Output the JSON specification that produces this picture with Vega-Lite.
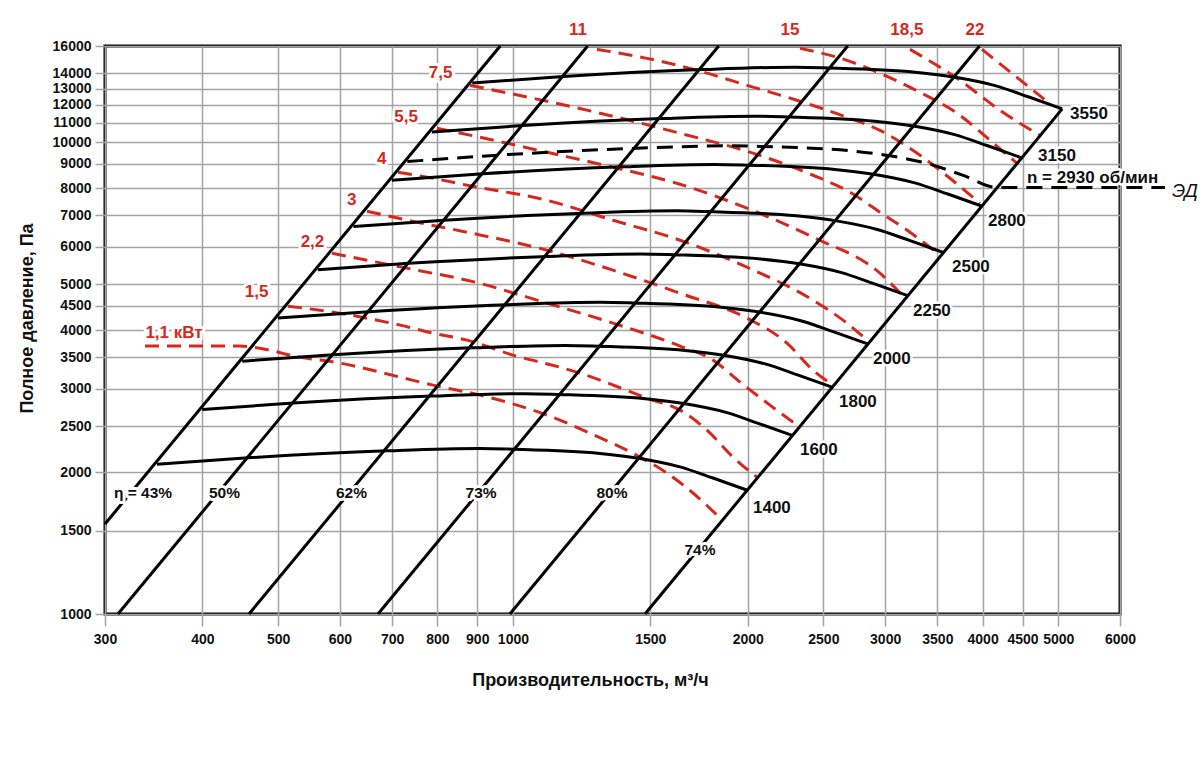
{
  "$schema": "https://vega.github.io/schema/vega-lite/v6.json",
  "width": 1015,
  "height": 568,
  "autosize": {"type": "none"},
  "padding": {"left": 105, "top": 46, "right": 80, "bottom": 149},
  "background": "white",
  "config": {
    "view": {"stroke": "#000", "strokeWidth": 3},
    "font": "Liberation Sans",
    "axis": {
      "domain": false, "grid": true, "gridColor": "#a3a3a3", "gridWidth": 1.5,
      "tickColor": "#a3a3a3", "tickWidth": 1.5,
      "labelFont": "Liberation Sans", "labelFontWeight": "bold", "labelFontSize": 14, "labelColor": "#111",
      "titleFont": "Liberation Sans", "titleFontWeight": "bold", "titleFontSize": 18, "titleColor": "#111",
      "labelOverlap": false, "labelFlush": false
    }
  },
  "datasets": {
    "speeds": [
      {"n":1400,"Q":349.8,"P":2078},{"n":1400,"Q":457.6,"P":2144},{"n":1400,"Q":689.5,"P":2218},{"n":1400,"Q":907.5,"P":2244},{"n":1400,"Q":1000.1,"P":2236},{"n":1400,"Q":1293,"P":2190},{"n":1400,"Q":1455,"P":2137},{"n":1400,"Q":1637,"P":2051},{"n":1400,"Q":1805,"P":1942},{"n":1400,"Q":1995,"P":1831},
      {"n":1600,"Q":399.8,"P":2714},{"n":1600,"Q":523,"P":2800},{"n":1600,"Q":788,"P":2897},{"n":1600,"Q":1037.1,"P":2931},{"n":1600,"Q":1143,"P":2920},{"n":1600,"Q":1477.7,"P":2860},{"n":1600,"Q":1662.9,"P":2791},{"n":1600,"Q":1870.9,"P":2679},{"n":1600,"Q":2062.9,"P":2536},{"n":1600,"Q":2280,"P":2391},
      {"n":1800,"Q":449.7,"P":3435},{"n":1800,"Q":588.3,"P":3544},{"n":1800,"Q":886.5,"P":3667},{"n":1800,"Q":1166.8,"P":3710},{"n":1800,"Q":1285.8,"P":3696},{"n":1800,"Q":1662.4,"P":3620},{"n":1800,"Q":1870.7,"P":3533},{"n":1800,"Q":2104.7,"P":3390},{"n":1800,"Q":2320.7,"P":3210},{"n":1800,"Q":2565,"P":3027},
      {"n":2000,"Q":499.7,"P":4241},{"n":2000,"Q":653.7,"P":4375},{"n":2000,"Q":985,"P":4527},{"n":2000,"Q":1296.4,"P":4580},{"n":2000,"Q":1428.7,"P":4563},{"n":2000,"Q":1847.1,"P":4469},{"n":2000,"Q":2078.6,"P":4361},{"n":2000,"Q":2338.6,"P":4186},{"n":2000,"Q":2578.6,"P":3963},{"n":2000,"Q":2850,"P":3737},
      {"n":2250,"Q":562.2,"P":5367},{"n":2250,"Q":735.4,"P":5538},{"n":2250,"Q":1108.1,"P":5729},{"n":2250,"Q":1458.5,"P":5796},{"n":2250,"Q":1607.3,"P":5775},{"n":2250,"Q":2078,"P":5657},{"n":2250,"Q":2338.4,"P":5520},{"n":2250,"Q":2630.9,"P":5298},{"n":2250,"Q":2900.9,"P":5016},{"n":2250,"Q":3206.3,"P":4729},
      {"n":2500,"Q":624.6,"P":6626},{"n":2500,"Q":817.1,"P":6837},{"n":2500,"Q":1231.3,"P":7073},{"n":2500,"Q":1620.5,"P":7156},{"n":2500,"Q":1785.9,"P":7130},{"n":2500,"Q":2308.9,"P":6983},{"n":2500,"Q":2598.2,"P":6814},{"n":2500,"Q":2923.2,"P":6540},{"n":2500,"Q":3223.2,"P":6193},{"n":2500,"Q":3562.5,"P":5839},
      {"n":2800,"Q":699.6,"P":8312},{"n":2800,"Q":915.2,"P":8576},{"n":2800,"Q":1379,"P":8872},{"n":2800,"Q":1815,"P":8976},{"n":2800,"Q":2000.2,"P":8944},{"n":2800,"Q":2586,"P":8760},{"n":2800,"Q":2910,"P":8548},{"n":2800,"Q":3274,"P":8204},{"n":2800,"Q":3610,"P":7768},{"n":2800,"Q":3990,"P":7324},
      {"n":3150,"Q":787.1,"P":10520},{"n":3150,"Q":1029.6,"P":10854},{"n":3150,"Q":1551.4,"P":11229},{"n":3150,"Q":2041.9,"P":11360},{"n":3150,"Q":2250.2,"P":11320},{"n":3150,"Q":2909.3,"P":11087},{"n":3150,"Q":3273.8,"P":10819},{"n":3150,"Q":3683.3,"P":10383},{"n":3150,"Q":4061.3,"P":9831},{"n":3150,"Q":4488.8,"P":9269},
      {"n":3550,"Q":887,"P":13361},{"n":3550,"Q":1160.4,"P":13785},{"n":3550,"Q":1748.4,"P":14261},{"n":3550,"Q":2301.2,"P":14428},{"n":3550,"Q":2536,"P":14377},{"n":3550,"Q":3278.7,"P":14081},{"n":3550,"Q":3689.5,"P":13740},{"n":3550,"Q":4151,"P":13188},{"n":3550,"Q":4577,"P":12487},{"n":3550,"Q":5058.8,"P":11773}
    ],
    "motor": [
      {"Q":732.1,"P":9102},{"Q":957.7,"P":9391},{"Q":1443,"P":9715},{"Q":1899.3,"P":9829},{"Q":2093.1,"P":9794},{"Q":2706.1,"P":9592},{"Q":3045.1,"P":9360},{"Q":3426,"P":8984},{"Q":3777.6,"P":8506},{"Q":4175.2,"P":8020},{"Q":6852,"P":8020}
    ],
    "power": [
      {"kw":1.1,"Q":337.6,"P":3698},{"kw":1.1,"Q":446.8,"P":3698},{"kw":1.1,"Q":462.9,"P":3680},{"kw":1.1,"Q":533.4,"P":3504},{"kw":1.1,"Q":600.4,"P":3403},{"kw":1.1,"Q":716.6,"P":3178},{"kw":1.1,"Q":789.8,"P":3056},{"kw":1.1,"Q":907.5,"P":2911},{"kw":1.1,"Q":1105.9,"P":2640},{"kw":1.1,"Q":1255,"P":2418},{"kw":1.1,"Q":1455,"P":2151},{"kw":1.1,"Q":1575.9,"P":1989},{"kw":1.1,"Q":1701.3,"P":1805},{"kw":1.1,"Q":1842.5,"P":1598},
      {"kw":1.5,"Q":514.9,"P":4493},{"kw":1.5,"Q":588.1,"P":4364},{"kw":1.5,"Q":650.1,"P":4238},{"kw":1.5,"Q":716.6,"P":4096},{"kw":1.5,"Q":789.8,"P":3939},{"kw":1.5,"Q":873.2,"P":3807},{"kw":1.5,"Q":1000.1,"P":3538},{"kw":1.5,"Q":1159.3,"P":3321},{"kw":1.5,"Q":1218.7,"P":3240},{"kw":1.5,"Q":1485.5,"P":2868},{"kw":1.5,"Q":1637.4,"P":2705},{"kw":1.5,"Q":1773.1,"P":2454},{"kw":1.5,"Q":1915,"P":2151},{"kw":1.5,"Q":2054.9,"P":1951},
      {"kw":2.2,"Q":586.3,"P":5820},{"kw":2.2,"Q":650.1,"P":5623},{"kw":2.2,"Q":753.4,"P":5356},{"kw":2.2,"Q":873.2,"P":5101},{"kw":2.2,"Q":1105.9,"P":4560},{"kw":2.2,"Q":1343.6,"P":4136},{"kw":2.2,"Q":1637.4,"P":3698},{"kw":2.2,"Q":1804.8,"P":3453},{"kw":2.2,"Q":1955,"P":3101},{"kw":2.2,"Q":2135.2,"P":2772},{"kw":2.2,"Q":2333,"P":2490},
      {"kw":3,"Q":650.1,"P":7143},{"kw":3,"Q":753.4,"P":6769},{"kw":3,"Q":873.2,"P":6447},{"kw":3,"Q":1105.9,"P":5905},{"kw":3,"Q":1343.6,"P":5356},{"kw":3,"Q":1637.4,"P":4786},{"kw":3,"Q":1995.2,"P":4238},{"kw":3,"Q":2245.3,"P":3752},{"kw":3,"Q":2424.5,"P":3288},{"kw":3,"Q":2571.8,"P":3056},
      {"kw":4,"Q":712.4,"P":8639},{"kw":4,"Q":789.8,"P":8390},{"kw":4,"Q":873.2,"P":8109},{"kw":4,"Q":1105.9,"P":7534},{"kw":4,"Q":1343.6,"P":6836},{"kw":4,"Q":1637.4,"P":6200},{"kw":4,"Q":1995.2,"P":5435},{"kw":4,"Q":2424.5,"P":4627},{"kw":4,"Q":2680.3,"P":4136},{"kw":4,"Q":2843.3,"P":3807},
      {"kw":5.5,"Q":799.2,"P":10707},{"kw":5.5,"Q":907.5,"P":10247},{"kw":5.5,"Q":1105.9,"P":9524},{"kw":5.5,"Q":1343.6,"P":8853},{"kw":5.5,"Q":1637.4,"P":8148},{"kw":5.5,"Q":1995.2,"P":7249},{"kw":5.5,"Q":2424.5,"P":6291},{"kw":5.5,"Q":2954.3,"P":5278},{"kw":5.5,"Q":3180.5,"P":4672},
      {"kw":7.5,"Q":881,"P":13206},{"kw":7.5,"Q":1105.9,"P":12216},{"kw":7.5,"Q":1343.6,"P":11354},{"kw":7.5,"Q":1637.4,"P":10449},{"kw":7.5,"Q":1995.2,"P":9571},{"kw":7.5,"Q":2424.5,"P":8514},{"kw":7.5,"Q":2704,"P":7838},{"kw":7.5,"Q":2954.3,"P":7108},{"kw":7.5,"Q":3228,"P":6447},{"kw":7.5,"Q":3527.5,"P":5764},
      {"kw":11,"Q":1281.2,"P":15740},{"kw":11,"Q":1485.5,"P":15064},{"kw":11,"Q":1721.5,"P":14207},{"kw":11,"Q":1995.2,"P":13206},{"kw":11,"Q":2312.5,"P":12276},{"kw":11,"Q":2680.3,"P":11299},{"kw":11,"Q":2954.3,"P":10603},{"kw":11,"Q":3324.6,"P":9386},{"kw":11,"Q":3632.4,"P":8390},{"kw":11,"Q":3968.7,"P":7424},
      {"kw":15,"Q":2333,"P":15817},{"kw":15,"Q":2680.3,"P":14917},{"kw":15,"Q":2954.3,"P":14002},{"kw":15,"Q":3324.6,"P":12764},{"kw":15,"Q":3741.3,"P":11408},{"kw":15,"Q":4087.5,"P":10098},{"kw":15,"Q":4426.8,"P":9026},
      {"kw":18.5,"Q":3228,"P":15740},{"kw":18.5,"Q":3741.3,"P":13532},{"kw":18.5,"Q":4209.9,"P":11690},{"kw":18.5,"Q":4738.5,"P":10347},
      {"kw":22,"Q":3992.2,"P":15740},{"kw":22,"Q":4426.8,"P":13731},{"kw":22,"Q":4851.5,"P":12157}
    ],
    "eff": [
      {"e":"43","Q":300,"P":1552},{"e":"43","Q":963.2,"P":16000},
      {"e":"50","Q":311.7,"P":1000},{"e":"50","Q":1246.8,"P":16000},
      {"e":"62","Q":458.9,"P":1000},{"e":"62","Q":1835.6,"P":16000},
      {"e":"73","Q":671.5,"P":1000},{"e":"73","Q":2686,"P":16000},
      {"e":"80","Q":991,"P":1000},{"e":"80","Q":3964,"P":16000},
      {"e":"74","Q":1476.6,"P":1000},{"e":"74","Q":5058.8,"P":11773}
    ],
    "labels": [
      {"g":"n","t":"1400","Q":2031,"P":1677},
      {"g":"n","t":"1600","Q":2333,"P":2226},
      {"g":"n","t":"1800","Q":2618,"P":2813},
      {"g":"n","t":"2000","Q":2894,"P":3470},
      {"g":"n","t":"2250","Q":3257,"P":4384},
      {"g":"n","t":"2500","Q":3654,"P":5435},
      {"g":"n","t":"2800","Q":4064,"P":6802},
      {"g":"n","t":"3150","Q":4711,"P":9340},
      {"g":"n","t":"3550","Q":5177,"P":11465},
      {"g":"n","t":"n = 2930 об/мин","Q":4560,"P":8390},
      {"g":"ed","t":"ЭД","Q":6997,"P":7877},
      {"g":"eta","t":"η = 43%","Q":335.6,"P":1805},
      {"g":"eta","t":"50%","Q":426.8,"P":1805},
      {"g":"eta","t":"62%","Q":621,"P":1805},
      {"g":"eta","t":"73%","Q":910.2,"P":1805},
      {"g":"eta","t":"80%","Q":1339.6,"P":1805},
      {"g":"eta","t":"74%","Q":1736.8,"P":1367},
      {"g":"kw","t":"1,1 кВт","Q":367.8,"P":3939},
      {"g":"kw","t":"1,5","Q":469.2,"P":4810},
      {"g":"kw","t":"2,2","Q":553.4,"P":6140},
      {"g":"kw","t":"3","Q":621.4,"P":7559},
      {"g":"kw","t":"4","Q":678.8,"P":9236},
      {"g":"kw","t":"5,5","Q":729.5,"P":11315},
      {"g":"kw","t":"7,5","Q":807.9,"P":14050},
      {"g":"kw","t":"11","Q":1211.5,"P":17270},
      {"g":"kw","t":"15","Q":2265,"P":17270},
      {"g":"kw","t":"18,5","Q":3199,"P":17270},
      {"g":"kw","t":"22","Q":3910.5,"P":17270}
    ]
  },
  "encoding": {
    "x": {
      "field": "Q", "type": "quantitative",
      "scale": {"type": "log", "domain": [300, 6000], "nice": false, "zero": false},
      "axis": {
        "values": [300,400,500,600,700,800,900,1000,1500,2000,2500,3000,3500,4000,4500,5000,6000],
        "format": "d", "tickSize": 12, "labelPadding": 6,
        "title": "Производительность, м³/ч", "titleX": 485, "titleY": 66, "titleBaseline": "middle"
      }
    },
    "y": {
      "field": "P", "type": "quantitative",
      "scale": {"type": "log", "domain": [1000, 16000], "nice": false, "zero": false},
      "axis": {
        "values": [1000,1500,2000,2500,3000,3500,4000,4500,5000,6000,7000,8000,9000,10000,11000,12000,13000,14000,16000],
        "format": "d", "tickSize": 10, "labelPadding": 4,
        "title": "Полное давление, Па", "titleX": -78, "titleY": 272, "titleAngle": -90, "titleBaseline": "middle"
      }
    }
  },
  "layer": [
    {
      "data": {"name": "power"},
      "mark": {"type": "line", "color": "#d7281e", "strokeWidth": 3, "strokeDash": [14, 8], "interpolate": "monotone", "clip": false},
      "encoding": {"detail": {"field": "kw", "type": "nominal"}}
    },
    {
      "data": {"name": "eff"},
      "mark": {"type": "line", "color": "#000", "strokeWidth": 3},
      "encoding": {"detail": {"field": "e", "type": "nominal"}}
    },
    {
      "data": {"name": "speeds"},
      "mark": {"type": "line", "color": "#000", "strokeWidth": 3, "interpolate": "monotone"},
      "encoding": {"detail": {"field": "n", "type": "nominal"}}
    },
    {
      "data": {"name": "motor"},
      "mark": {"type": "line", "color": "#000", "strokeWidth": 3, "strokeDash": [16, 9], "interpolate": "monotone"},
      "encoding": {}
    },
    {
      "data": {"name": "labels"},
      "transform": [{"filter": "datum.g === 'n'"}],
      "mark": {"type": "text", "align": "left", "baseline": "middle", "font": "Liberation Sans", "fontWeight": "bold", "fontSize": 17, "stroke": "white", "strokeWidth": 5, "strokeJoin": "round", "fill": "white"},
      "encoding": {"text": {"field": "t"}}
    },
    {
      "data": {"name": "labels"},
      "transform": [{"filter": "datum.g === 'n'"}],
      "mark": {"type": "text", "align": "left", "baseline": "middle", "font": "Liberation Sans", "fontWeight": "bold", "fontSize": 17, "color": "#111"},
      "encoding": {"text": {"field": "t"}}
    },
    {
      "data": {"name": "labels"},
      "transform": [{"filter": "datum.g === 'ed'"}],
      "mark": {"type": "text", "align": "left", "baseline": "middle", "font": "Liberation Sans", "fontStyle": "italic", "fontSize": 19, "color": "#111"},
      "encoding": {"text": {"field": "t"}}
    },
    {
      "data": {"name": "labels"},
      "transform": [{"filter": "datum.g === 'eta'"}],
      "mark": {"type": "text", "align": "center", "baseline": "middle", "font": "Liberation Sans", "fontWeight": "bold", "fontSize": 15.5, "stroke": "white", "strokeWidth": 6, "strokeJoin": "round", "fill": "white"},
      "encoding": {"text": {"field": "t"}}
    },
    {
      "data": {"name": "labels"},
      "transform": [{"filter": "datum.g === 'eta'"}],
      "mark": {"type": "text", "align": "center", "baseline": "middle", "font": "Liberation Sans", "fontWeight": "bold", "fontSize": 15.5, "color": "#111"},
      "encoding": {"text": {"field": "t"}}
    },
    {
      "data": {"name": "labels"},
      "transform": [{"filter": "datum.g === 'kw'"}],
      "mark": {"type": "text", "align": "center", "baseline": "middle", "font": "Liberation Sans", "fontWeight": "bold", "fontSize": 17, "stroke": "white", "strokeWidth": 6, "strokeJoin": "round", "fill": "white"},
      "encoding": {"text": {"field": "t"}}
    },
    {
      "data": {"name": "labels"},
      "transform": [{"filter": "datum.g === 'kw'"}],
      "mark": {"type": "text", "align": "center", "baseline": "middle", "font": "Liberation Sans", "fontWeight": "bold", "fontSize": 17, "color": "#d7281e"},
      "encoding": {"text": {"field": "t"}}
    }
  ]
}
